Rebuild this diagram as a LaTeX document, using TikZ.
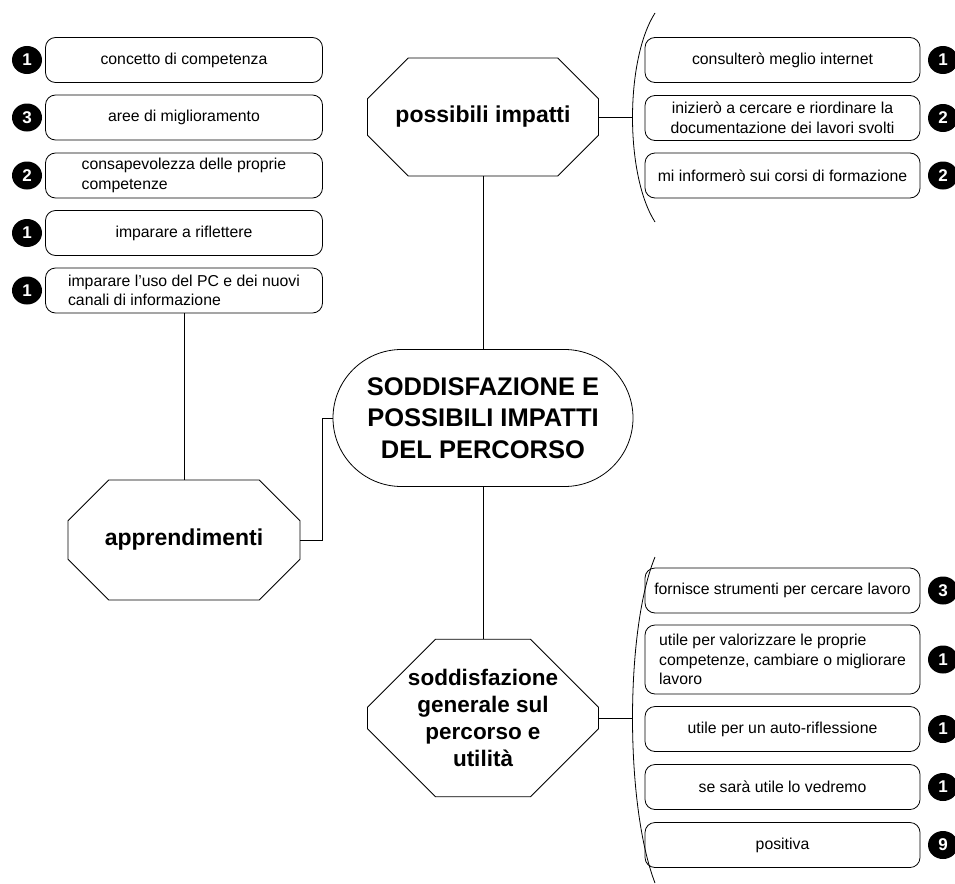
\documentclass[tikz,border=0pt]{standalone}
\usepackage{fontspec}
\setmainfont{Liberation Sans}
\usetikzlibrary{shapes.misc,shapes.geometric}
\begin{document}
\begin{tikzpicture}[x=1pt,y=-1pt,
  conn/.style={draw=black,line width=0.8pt},
  box/.style={draw, line width=0.8pt, rounded corners=10pt, minimum width=277pt, minimum height=45pt, inner sep=0pt, font=\fontsize{15.8}{19.5}\selectfont, align=center},
  badge/.style={ellipse, fill=black, text=white, minimum width=30pt, minimum height=28pt, inner sep=0pt, font=\bfseries\fontsize{17}{17}\selectfont},
  octa/.style={chamfered rectangle, chamfered rectangle xsep=38pt, chamfered rectangle ysep=30pt, draw, line width=0.8pt, minimum width=231pt, minimum height=118pt, inner sep=0pt, align=center, font=\bfseries\fontsize{23}{27}\selectfont},
  hub/.style={rounded rectangle, draw, line width=0.8pt, minimum width=300pt, minimum height=137pt, inner sep=0pt, align=center, font=\bfseries\fontsize{25.5}{31.5}\selectfont}]
\useasboundingbox[fill=white] (0,0) rectangle (955,883);

% central node
\node[hub] (center) at (483,418) {SODDISFAZIONE E\\POSSIBILI IMPATTI\\DEL PERCORSO};
\node[octa] (poss) at (483,117) {possibili impatti};
\node[octa, minimum width=232pt, minimum height=120pt] (appr) at (184,540) {apprendimenti};
\node[octa, minimum height=116pt, font=\bfseries\fontsize{22.5}{27}\selectfont] (sodd) at (483,718) {soddisfazione\\generale sul\\percorso e\\utilità};

% left boxes
\node[box] (l1) at (184,60) {concetto di competenza};
\node[box] (l2) at (184,117.5) {aree di miglioramento};
\node[box, align=left] (l3) at (184,175.5) {consapevolezza delle proprie\\competenze};
\node[box] (l4) at (184,233) {imparare a riflettere};
\node[box, align=left] (l5) at (184,290.5) {imparare l'uso del PC e dei nuovi\\canali di informazione};
\node[badge] (bl1) at (27,60) {1};
\node[badge] (bl2) at (27,117.5) {3};
\node[badge] (bl3) at (27,175.5) {2};
\node[badge] (bl4) at (27,233) {1};
\node[badge] (bl5) at (27,290.5) {1};

% right top boxes
\node[box, minimum width=275pt] (r1) at (782.5,60) {consulterò meglio internet};
\node[box, minimum width=275pt] (r2) at (782.5,118) {inizierò a cercare e riordinare la\\documentazione dei lavori svolti};
\node[box, minimum width=275pt] (r3) at (782.5,175.5) {mi informerò sui corsi di formazione};
\node[badge] (br1) at (943,60) {1};
\node[badge] (br2) at (943,118) {2};
\node[badge] (br3) at (943,175.5) {2};

% right bottom boxes
\node[box, minimum width=275pt] (s1) at (782.5,590.5) {fornisce strumenti per cercare lavoro};
\node[box, minimum width=275pt, minimum height=69pt, align=left] (s2) at (782.5,659.5) {utile per valorizzare le proprie\\competenze, cambiare o migliorare\\lavoro};
\node[box, minimum width=275pt] (s3) at (782.5,729) {utile per un auto-riflessione};
\node[box, minimum width=275pt] (s4) at (782.5,787) {se sarà utile lo vedremo};
\node[box, minimum width=275pt] (s5) at (782.5,845) {positiva};
\node[badge] (bs1) at (943,590.5) {3};
\node[badge] (bs2) at (943,659.5) {1};
\node[badge] (bs3) at (943,729) {1};
\node[badge] (bs4) at (943,787) {1};
\node[badge] (bs5) at (943,845) {9};

% brackets
\coordinate (brtop) at (632.5,117);
\coordinate (brbot) at (632.5,718);
\draw[conn] (655,13) .. controls (625,60) and (625,175) .. (655,222);
\draw[conn] (655,557) .. controls (625,630) and (625,805) .. (655,883);

% connectors
\draw[conn] (poss.south) -- (center.north);
\draw[conn] (center.south) -- (sodd.north);
\draw[conn] (l5.south) -- (appr.north);
\draw[conn] (appr.east) -- ++(22,0) |- (center.west);
\draw[conn] (poss.east) -- (brtop);
\draw[conn] (sodd.east) -- (brbot);
\end{tikzpicture}
\end{document}
